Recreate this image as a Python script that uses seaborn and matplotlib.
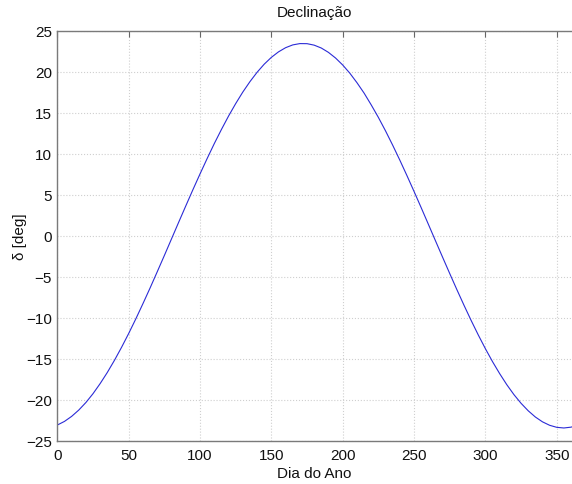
import matplotlib
matplotlib.use("Agg")
import matplotlib.pyplot as plt
import seaborn as sns
import pandas as pd

# Day of year and declination
dias = [0, 5, 10, 15, 20, 25, 30, 35, 40, 45, 50, 55, 60, 65, 70, 75, 80, 85,
        90, 95, 100, 105, 110, 115, 120, 125, 130, 135, 140, 145, 150, 155,
        160, 165, 170, 175, 180, 185, 190, 195, 200, 205, 210, 215, 220, 225,
        230, 235, 240, 245, 250, 255, 260, 265, 270, 275, 280, 285, 290, 295,
        300, 305, 310, 315, 320, 325, 330, 335, 340, 345, 350, 355, 360, 365]
declinacao = [-23.09, -22.65, -22.04, -21.27, -20.35, -19.27, -18.04, -16.69,
              -15.21, -13.62, -11.93, -10.15, -8.29, -6.38, -4.41, -2.42,
              -0.40, 1.62, 3.62, 5.60, 7.53, 9.41, 11.23, 12.95, 14.59, 16.11,
              17.52, 18.79, 19.93, 20.92, 21.75, 22.42, 22.93, 23.27, 23.43,
              23.42, 23.24, 22.89, 22.36, 21.67, 20.82, 19.82, 18.66, 17.39,
              15.95, 14.43, 12.79, 11.05, 9.23, 7.34, 5.40, 3.42, 1.41, -0.61,
              -2.62, -4.61, -6.57, -8.48, -10.33, -12.10, -13.78, -15.36,
              -16.82, -18.17, -19.38, -20.44, -21.35, -22.11, -22.70, -23.12,
              -23.37, -23.45, -23.35, -23.09]
xticks = [0, 50, 100, 150, 200, 250, 300, 350]
yticks = [-25, -20, -15, -10, -5, 0, 5, 10, 15, 20, 25]

sns.set_style("white")
plt.rcParams['font.family'] = ['Liberation Sans', 'DejaVu Sans']

df = pd.DataFrame({"dia": dias, "dec": declinacao})

fig = plt.figure(figsize=(5.72, 4.85), dpi=100)
ax = fig.add_axes([0.1002, 0.0893, 0.8998, 0.8453])
sns.lineplot(data=df, x="dia", y="dec", ax=ax, color="#2b2bd6", linewidth=0.8)

ax.set_xlim(0, 360.7)
ax.set_ylim(-25, 25)
ax.set_xticks(xticks)
ax.set_yticks(yticks)
ax.grid(True, linestyle=":", color="#cfcfcf", linewidth=0.8)
ax.tick_params(axis="both", direction="in", length=4, width=0.8, colors="#666666",
               labelcolor="#111111", labelsize=11, top=True, pad=4)
ax.tick_params(axis="x", pad=5)
for side in ["left", "bottom", "top"]:
    ax.spines[side].set_color("#7a7a7a")
    ax.spines[side].set_linewidth(1.0)
ax.spines["right"].set_visible(False)

ax.set_title("Declinação", fontsize=11, pad=10.5, color="#111111")
ax.set_xlabel("Dia do Ano", fontsize=11, labelpad=3, color="#111111")
ax.set_ylabel("δ [deg]", fontsize=11, labelpad=-0.5, color="#111111")

fig.savefig("out.png", dpi=100, facecolor="white")
